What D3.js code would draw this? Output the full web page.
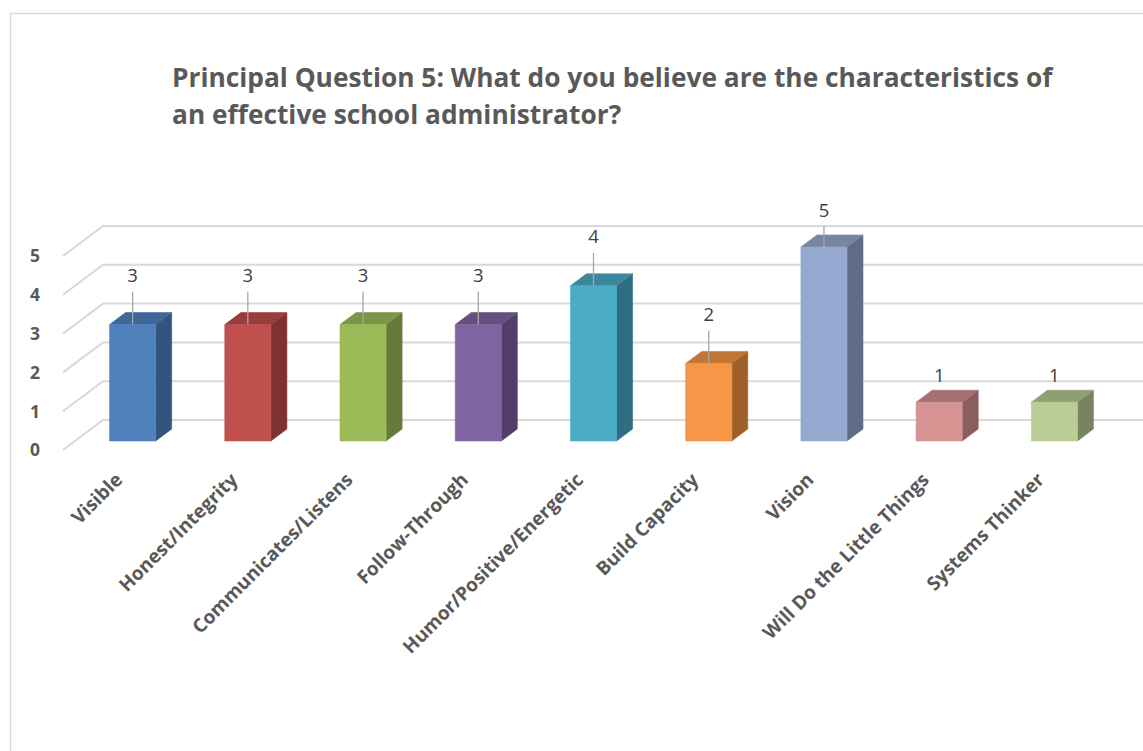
<!DOCTYPE html>
<html>
<head>
<meta charset="utf-8">
<script src="https://cdn.jsdelivr.net/npm/d3@7"></script>
<style>
  html, body { margin: 0; padding: 0; background: #ffffff; }
  svg { display: block; }
</style>
</head>
<body>
<div id="chart"></div>
<script>
// Survey responses: characteristics of an effective school administrator
const categories = [
  "Visible",
  "Honest/Integrity",
  "Communicates/Listens",
  "Follow-Through",
  "Humor/Positive/Energetic",
  "Build Capacity",
  "Vision",
  "Will Do the Little Things",
  "Systems Thinker"
];
const counts = [3, 3, 3, 3, 4, 2, 5, 1, 1];
const yTicks = [0, 1, 2, 3, 4, 5];
const titleLines = [
  "Principal Question 5: What do you believe are the characteristics of",
  "an effective school administrator?"
];

// Face colours per bar: front, side, top
const palette = [
  ["#4f81bd", "#33547d", "#3e679a"],
  ["#c0504d", "#7f3130", "#983d3a"],
  ["#9bbb59", "#667b39", "#7c9546"],
  ["#8064a2", "#523f69", "#66507f"],
  ["#4bacc6", "#2f6e80", "#3b889d"],
  ["#f79646", "#a0602b", "#c37536"],
  ["#95a9d0", "#5f6c86", "#77869f"],
  ["#d59392", "#8b5e5d", "#a47170"],
  ["#bacd96", "#77845f", "#8f9e73"]
];

const W = 1143, H = 751;
const svg = d3.select("#chart").append("svg")
  .attr("width", W).attr("height", H);

// Chart frame
svg.append("rect")
  .attr("x", 10.5).attr("y", 13.5)
  .attr("width", W + 20).attr("height", H + 20)
  .attr("fill", "none").attr("stroke", "#d9d9d9").attr("stroke-width", 1.5);

// Title
const title = svg.append("text")
  .attr("x", 172).attr("y", 87)
  .attr("font-family", "'Open Sans', sans-serif")
  .attr("font-weight", 700)
  .attr("font-size", 26.3)
  .attr("fill", "#595959");
title.selectAll("tspan").data(titleLines).join("tspan")
  .attr("x", 172)
  .attr("dy", (d, i) => i === 0 ? 0 : 37)
  .text(d => d);

// 3D projection: front plane scales plus a depth offset
const depthX = 40, depthY = -30;
const x = d3.scaleBand().domain(categories).range([63, 1100]).padding(0);
const y = d3.scaleLinear().domain([0, 5]).range([450, 256]);
const proj = (px, v, z) => [px + depthX * z, y(v) + depthY * z];

// Gridlines: side wall diagonal plus back wall line
const grid = svg.append("g")
  .attr("fill", "none").attr("stroke", "#d9d9d9").attr("stroke-width", 2);
yTicks.forEach(t => {
  const a = proj(x.range()[0], t, 0);
  const b = proj(x.range()[0], t, 1);
  const c = proj(x.range()[1], t, 1);
  grid.append("path")
    .attr("d", d3.line()([a, b, [W + 10, c[1]]]));
});

// Value axis labels
svg.append("g").selectAll("text").data(yTicks).join("text")
  .attr("x", 40)
  .attr("y", d => y(d))
  .attr("dy", "0.36em")
  .attr("text-anchor", "end")
  .attr("font-family", "'Open Sans', sans-serif")
  .attr("font-weight", 700)
  .attr("font-size", 17.5)
  .attr("fill", "#595959")
  .text(d => d);

// Bars as prisms, occupying the middle of the depth
const zFront = 0.3, zBack = 0.7, barFrac = 0.4;
const bars = svg.append("g");
categories.forEach((cat, i) => {
  const v = counts[i];
  const bw = x.bandwidth() * barFrac;
  const x0 = x(cat) + (x.bandwidth() - bw) / 2;
  const x1 = x0 + bw;
  const [fc, sc, tc] = palette[i];
  const p = (px, val, z) => proj(px, val, z);
  const poly = pts => "M" + pts.map(q => q.join(",")).join("L") + "Z";
  const g = bars.append("g").attr("stroke-width", 0.6);
  // side face
  g.append("path").attr("d", poly([p(x1, 0, zFront), p(x1, 0, zBack), p(x1, v, zBack), p(x1, v, zFront)]))
    .attr("fill", sc).attr("stroke", sc);
  // top face
  g.append("path").attr("d", poly([p(x0, v, zFront), p(x1, v, zFront), p(x1, v, zBack), p(x0, v, zBack)]))
    .attr("fill", tc).attr("stroke", tc);
  // front face
  g.append("path").attr("d", poly([p(x0, 0, zFront), p(x1, 0, zFront), p(x1, v, zFront), p(x0, v, zFront)]))
    .attr("fill", fc).attr("stroke", fc);

  // Data label with a leader line to the bar top
  const [cx, topY] = p((x0 + x1) / 2, v, zFront);
  const lift = v >= 2 ? 49 : 27;
  const labelY = Math.max(topY - lift, 210);
  if (topY - labelY > 30) {
    svg.append("line")
      .attr("x1", cx).attr("x2", cx)
      .attr("y1", labelY + 16).attr("y2", topY)
      .attr("stroke", "#a6a6a6").attr("stroke-width", 1.3);
  }
  svg.append("text")
    .attr("x", cx).attr("y", labelY)
    .attr("dy", "0.36em")
    .attr("text-anchor", "middle")
    .attr("font-family", "'Open Sans', sans-serif")
    .attr("font-size", 18.5)
    .attr("fill", "#404040")
    .text(v);
});

// Category labels, rotated
svg.append("g").selectAll("text").data(categories).join("text")
  .attr("transform", d => {
    const [cx] = proj(x(d) + x.bandwidth() / 2, 0, zFront);
    return `translate(${cx - 9},${481}) rotate(-45)`;
  })
  .attr("text-anchor", "end")
  .attr("font-family", "'Open Sans', sans-serif")
  .attr("font-weight", 700)
  .attr("font-size", 19)
  .attr("fill", "#595959")
  .text(d => d);
</script>
</body>
</html>
